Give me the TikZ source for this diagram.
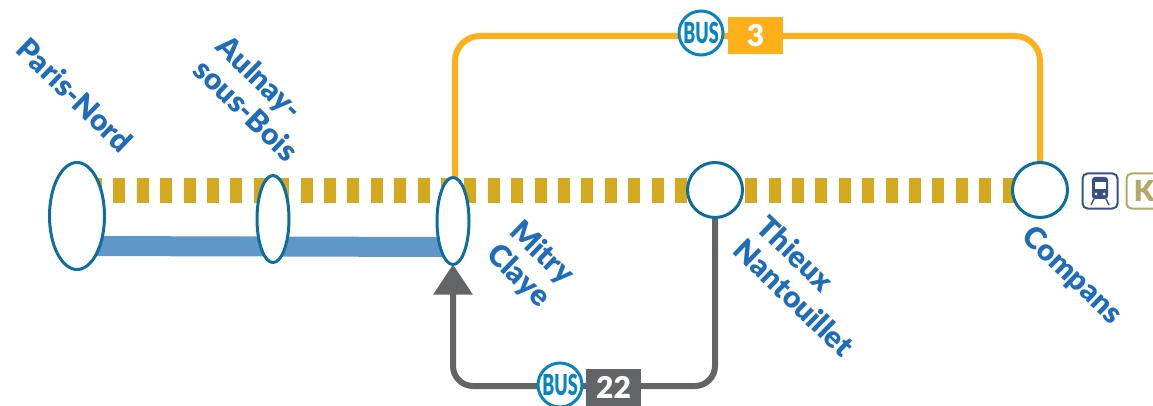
\documentclass[tikz,border=0pt]{standalone}
\usepackage{fontspec}
\setmainfont{Lato}[BoldFont={Lato Black}]
\usetikzlibrary{arrows.meta, shapes.geometric, backgrounds}
\definecolor{stationblue}{HTML}{0B6E9E}
\definecolor{labelblue}{HTML}{1F6DB8}
\definecolor{rerblue}{HTML}{6096C8}
\definecolor{linegold}{HTML}{D4A81F}
\definecolor{busyellow}{HTML}{FDB01A}
\definecolor{busgrey}{HTML}{636466}
\definecolor{busblue}{HTML}{0A84BF}
\definecolor{trainblue}{HTML}{3A4F85}
\definecolor{kolive}{HTML}{B3A866}
\tikzset{
    stop/.style={ellipse, draw=stationblue, line width=3pt, fill=white, inner sep=0pt, outer sep=0pt}, % gares
    stoplabel/.style={text=labelblue, font=\fontsize{30}{33}\selectfont\bfseries, rotate=-44, align=left},
    busmark/.style={circle, draw=busblue, line width=3pt, fill=white, minimum size=44pt, inner sep=0pt, text=busblue, font=\fontsize{29}{29}\selectfont\bfseries},
    busnumber/.style={minimum height=37pt, minimum width=55pt, inner sep=0pt, text=white, font=\fontsize{30}{30}\selectfont\bfseries},
    iconbox/.style={draw=#1, line width=2pt, rounded corners=5pt, fill=white, minimum size=35pt, inner sep=0pt}
}

\begin{document}
\begin{tikzpicture}[x=1pt, y=-1pt]
    \useasboundingbox (0,0) rectangle (1153,406);
    \clip (0,0) rectangle (1153,406);

    % gares
    \node[stop, minimum width=55pt, minimum height=107pt] (paris) at (77,216) {};
    \node[stop, minimum width=32pt, minimum height=87pt] (aulnay) at (273,219) {};
    \node[stop, minimum width=32pt, minimum height=87pt] (mitry) at (453,221) {};
    \node[stop, minimum width=55pt, minimum height=55pt] (thieux) at (715,190) {};
    \node[stop, minimum width=55pt, minimum height=55pt] (compans) at (1040,190) {};

    \coordinate (dashstart) at (77,190.5);
    \coordinate (barstart) at (77,246);
    \coordinate (barend) at (453,247);
    \coordinate (topleft) at (455,36);
    \coordinate (topright) at (1040,36);
    \coordinate (botright) at (715,386);
    \coordinate (botleft) at (453,386);

    % lignes
    \begin{scope}[on background layer]
        \draw[linegold, line width=25pt, dash pattern=on 12pt off 11.4pt, dash phase=10.4pt] (dashstart) -- (dashstart -| compans.center);
        \draw[rerblue, line width=20pt] (barstart) -- (barend);
        \draw[busyellow, line width=6pt, rounded corners=25pt] (topleft |- mitry.north) -- (topleft) -- (topright) -- (compans.north);
        \draw[busgrey, line width=6pt, rounded corners=20pt, -{Triangle[length=30pt, width=38pt]}] (thieux.south) -- (botright) -- (botleft) -- (mitry.south);
    \end{scope}

    \node[stoplabel] (parislabel) at (75,95) {Paris-Nord};
    \node[stoplabel] (aulnaylabel) at (258,98) {Aulnay-\\sous-Bois};
    \node[stoplabel] (mitrylabel) at (530,265) {Mitry\\Claye};
    \node[stoplabel] (thieuxlabel) at (806,286) {Thieux\\Nantouillet};
    \node[stoplabel] (companslabel) at (1072,276) {Compans};

    \node[busmark] (bustop) at (701,33) {\scalebox{0.62}[1]{BUS}};
    \node[busnumber, fill=busyellow] (numtop) at (755.5,35.5) {3};
    \node[busmark] (busbot) at (560,385) {\scalebox{0.62}[1]{BUS}};
    \node[busnumber, fill=busgrey] (numbot) at (613.5,387) {22};

    % pictogrammes
    \node[iconbox=trainblue] (trainicon) at (1100,191) {};
    \node[iconbox=kolive, text=kolive, font=\fontsize{29}{29}\selectfont\bfseries] (kicon) at (1144,191) {K};
    \fill[trainblue, rounded corners=3pt] (1092,177) rectangle (1108,199);
    \fill[white] (1094.5,182) rectangle (1105.5,189);
    \fill[white] (1096,194) circle (1.5pt) (1104,194) circle (1.5pt);
    \draw[trainblue, line width=1.5pt] (1094,199) -- (1091,205) (1106,199) -- (1109,205);
\end{tikzpicture}
\end{document}
